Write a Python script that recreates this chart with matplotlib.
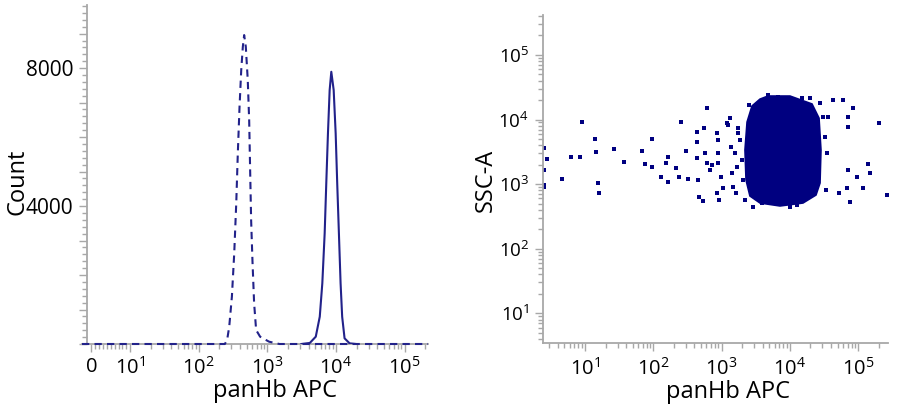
import matplotlib.pyplot as plt
from matplotlib.ticker import FixedLocator, FixedFormatter, MultipleLocator, FuncFormatter

plt.rcParams['font.family'] = ['Open Sans', 'DejaVu Sans']
plt.rcParams['mathtext.fontset'] = 'custom'
plt.rcParams['mathtext.rm'] = 'Open Sans'
plt.rcParams['mathtext.it'] = 'Open Sans:italic'
plt.rcParams['mathtext.bf'] = 'Open Sans:bold'

# ---- histogram (left) ----
ctrl_x = [-2.4, 50, 150, 240, 259, 278, 304, 329, 352, 371, 393, 416, 439, 459,
          485, 518, 543, 561, 580, 606, 641, 686, 784, 1059, 1500, 2.2e5]
ctrl_y = [0, 0, 0, 0, 116, 502, 1371, 2638, 4088, 5537, 6880, 7943, 8619, 8958,
          8619, 7653, 6494, 5044, 3595, 2435, 1189, 406, 212, 67, 0, 0]

stain_x = [3140, 4160, 5080, 5810, 6330, 6850, 7230, 7650, 8100, 8560, 9270,
           9910, 10440, 11050, 11690, 12330, 13360, 15800, 19700]
stain_y = [0, 30, 212, 791, 1760, 3209, 4659, 6108, 7363, 7894, 7363,
           6108, 4659, 3209, 1760, 791, 165, 20, 0]

hist_xticks = [0, 10, 100, 1000, 10000, 100000]
hist_xlabels = ['0', '$10^{1}$', '$10^{2}$', '$10^{3}$', '$10^{4}$', '$10^{5}$']

# ---- dot plot (right) ----
# dense core outline
core_x = [4780, 10030, 21080, 26700, 28500, 27600, 24100, 15550, 7160, 3650,
          2600, 2280, 2200, 2360, 2790, 3650]
core_y = [23100, 23100, 17400, 10500, 3370, 1040, 678, 510, 459, 510,
          655, 1156, 3370, 9140, 16200, 20700]

# single events outside the core
out_x = [2.5, 2.5, 2.5, 2.5, 2.75, 4.55, 6.2, 8.5, 9.1, 14, 14.5, 15.3, 16.2,
         26.9, 36.8, 67.6, 75.5, 96.8, 96.8, 128, 152, 162, 166, 215, 238, 252,
         301, 326, 432, 432, 432, 447, 472, 528, 559, 572, 604, 618, 676, 716,
         847, 876, 896, 876, 847, 926, 969, 1060, 1186, 1255, 1327, 1358, 1404,
         1486, 1571, 1625, 1663, 1718, 1758, 1860, 1966, 2080, 2200, 2550, 2920,
         3650, 3860, 4830, 6770, 10000, 12550, 14860, 19700, 27600, 30900,
         32600, 34500, 36500, 33800, 43200, 60600, 71700, 71700, 71700, 67700,
         75900, 83000, 53000, 94800, 119000, 138000, 149000, 204000, 260000]
out_y = [3580, 1660, 970, 890, 2420, 1190, 2660, 2660, 9270, 4930, 3180, 1055,
         738, 3500, 2230, 3260, 2050, 4930, 1860, 1306, 2100, 2660, 1090, 1760,
         1306, 9060, 3260, 1200, 6490, 4540, 2510, 1160, 640, 548, 7310, 3000,
         14900, 2100, 1660, 1980, 6110, 4820, 3000, 2100, 721, 568, 1306, 861,
         8730, 8230, 10450, 3800, 1470, 914, 3000, 721, 1860, 6110, 7310, 4820,
         2370, 1160, 568, 16800, 448, 16800, 505, 24000, 22600, 448, 475,
         21300, 21300, 17800, 11070, 5430, 3000, 11070, 811, 20000, 20000,
         11070, 7760, 1660, 861, 535, 14900, 721, 1306, 861, 2030, 1500, 8940,
         679]

dec_ticks = [10, 100, 1000, 10000, 100000]
dec_labels = ['$10^{1}$', '$10^{2}$', '$10^{3}$', '$10^{4}$', '$10^{5}$']

navy = '#000080'
line_c = '#22228a'
grey = '#a8a8a8'

fig = plt.figure(figsize=(9.13, 4.16), dpi=100)

# left panel
ax1 = fig.add_axes([82 / 913, 1 - 344 / 416, 346 / 913, 339 / 416])
ax1.set_xscale('symlog', linthresh=10, linscale=0.51)
ax1.plot(ctrl_x, ctrl_y, color=line_c, lw=1.5, ls=(0, (3.5, 2.5)), zorder=3, clip_on=False)
ax1.plot(stain_x, stain_y, color=line_c, lw=1.5, zorder=3)
ax1.set_xlim(-2.4, 2.2e5)
ax1.set_ylim(0, 9830)
ax1.spines['left'].set_position(('outward', -3.6))

ax1.xaxis.set_major_locator(FixedLocator(hist_xticks))
ax1.xaxis.set_major_formatter(FixedFormatter(hist_xlabels))
minor_x = [v for v in range(1, 10)]
for k in range(1, 5):
    minor_x += [m * 10 ** k for m in range(2, 10)]
minor_x.append(200000)
ax1.xaxis.set_minor_locator(FixedLocator(minor_x))
ax1.yaxis.set_major_locator(MultipleLocator(1000))
ax1.yaxis.set_minor_locator(MultipleLocator(200))
ax1.yaxis.set_major_formatter(FuncFormatter(lambda v, p: '%d' % v if v in (4000, 8000) else ''))
ax1.tick_params(axis='x', labelsize=14.5, pad=3)
ax1.tick_params(axis='y', labelsize=15, pad=4)

ax1.set_xlabel('panHb APC', fontsize=17, va='center')
ax1.xaxis.set_label_coords(0.558, -0.14)
ax1.set_ylabel('Count', fontsize=17, va='center')
ax1.yaxis.set_label_coords(-0.185, 0.478)

# right panel
ax2 = fig.add_axes([543 / 913, 1 - 343 / 416, 345 / 913, 328 / 416])
ax2.set_xscale('log')
ax2.set_yscale('log')
ax2.fill(core_x, core_y, color=navy, lw=1.2, zorder=2)
ax2.scatter(out_x, out_y, marker='s', s=5, color=navy, linewidths=0, zorder=2)
ax2.set_xlim(2.43, 2.73e5)
ax2.set_ylim(3.47, 4.15e5)

for axis in (ax2.xaxis, ax2.yaxis):
    axis.set_major_locator(FixedLocator(dec_ticks))
    axis.set_major_formatter(FixedFormatter(dec_labels))
    minor = []
    for k in range(0, 6):
        minor += [m * 10 ** k for m in range(2, 10)]
    axis.set_minor_locator(FixedLocator(minor))
ax2.tick_params(axis='x', labelsize=14.5, pad=5)
ax2.tick_params(axis='y', labelsize=13.5, pad=4)

ax2.set_xlabel('panHb APC', fontsize=17, va='center')
ax2.xaxis.set_label_coords(0.536, -0.148)
ax2.set_ylabel('SSC-A', fontsize=17, va='center')
ax2.yaxis.set_label_coords(-0.165, 0.497)

for ax in (ax1, ax2):
    ax.spines['top'].set_visible(False)
    ax.spines['right'].set_visible(False)
    for s in ('left', 'bottom'):
        ax.spines[s].set_color(grey)
        ax.spines[s].set_linewidth(1.3)
    ax.tick_params(which='major', length=6, width=1, color=grey)
    ax.tick_params(which='minor', length=3.5, width=1, color=grey)
    ax.set_facecolor('white')

fig.savefig('out.png', dpi=100)
